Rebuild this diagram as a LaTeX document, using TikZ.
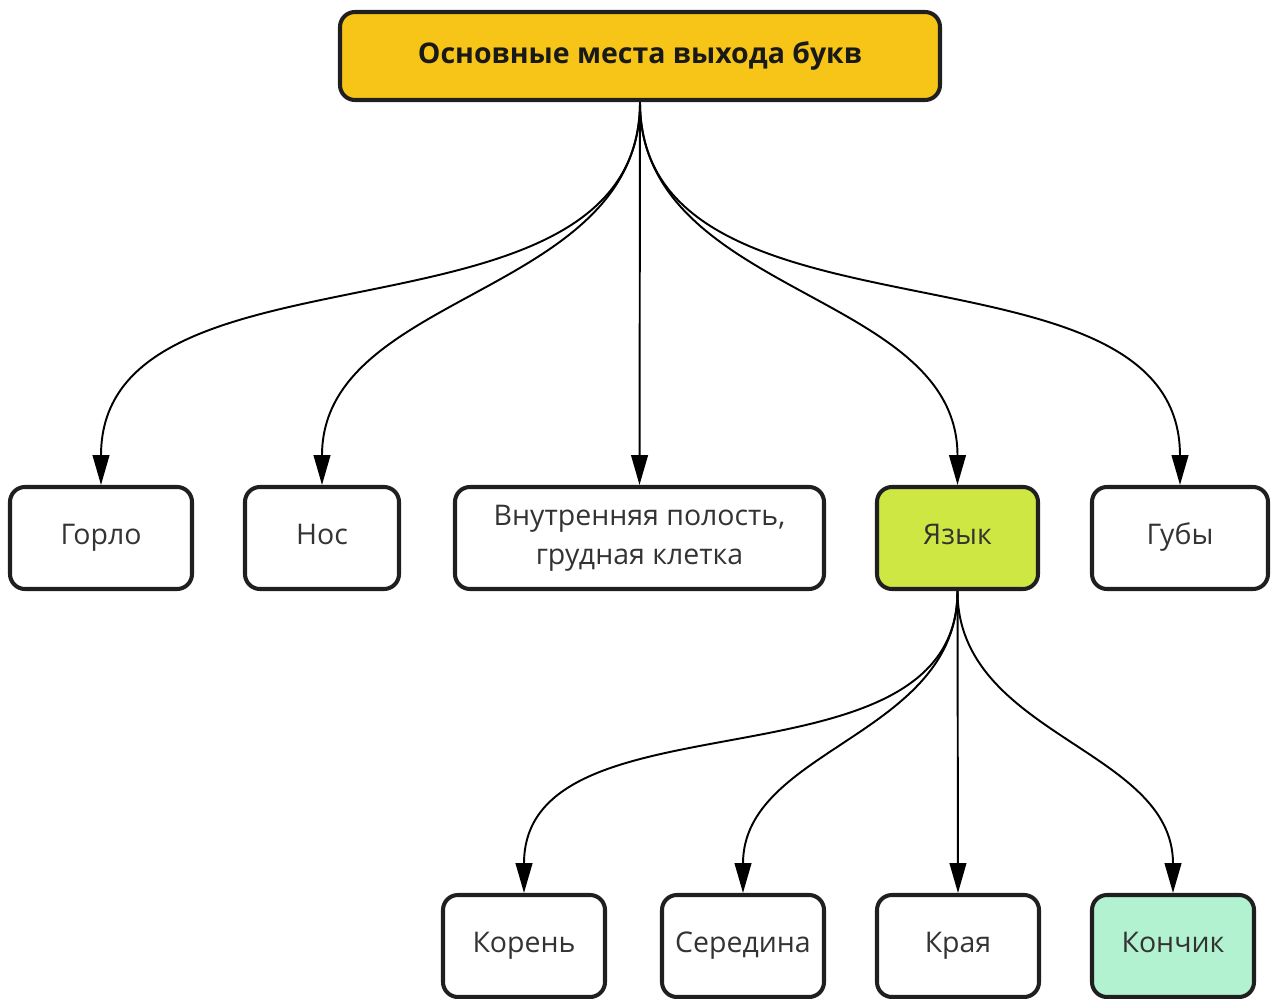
\documentclass[tikz,border=0pt]{standalone}
\usepackage{fontspec}
\setmainfont{Open Sans}
\usetikzlibrary{arrows.meta}
\colorlet{ylx}{rgb,255:red,246;green,197;blue,24}
\colorlet{lmx}{rgb,255:red,206;green,231;blue,66}
\colorlet{mnx}{rgb,255:red,178;green,242;blue,208}
\colorlet{bdx}{black!88}

\begin{document}
\begin{tikzpicture}[
        box/.style={draw=bdx, line width=2.3pt, rounded corners=0.3cm,
            minimum height=2.04cm, align=center, text=black!80,
            font=\fontsize{16.2}{22.2}\selectfont},
        word/.style={box, text height=0.85em, text depth=0.07em},
        link/.style={line width=1.1pt, -{Triangle[length=17pt,width=9.5pt]}}
    ]
    \useasboundingbox (0,0) rectangle (25.48,-19.98);
    \node[box, fill=ylx, minimum width=12cm, minimum height=1.76cm,
        text=black!90, font=\fontsize{16.2}{20}\selectfont\bfseries]
        (top) at (12.8,-1.12) {Основные места выхода букв};
    \node[word, minimum width=3.64cm] (gorlo) at (2.02,-10.76) {Горло};
    \node[word, minimum width=3.08cm] (nos) at (6.44,-10.76) {Нос};
    \node[box, minimum width=7.38cm] (polost) at (12.79,-10.76)
        {Внутренняя полость,\\грудная клетка};
    \node[word, fill=lmx, minimum width=3.22cm] (yazyk) at (19.15,-10.76) {Язык};
    \node[word, minimum width=3.52cm] (guby) at (23.6,-10.76) {Губы};
    \node[word, minimum width=3.24cm] (koren) at (10.48,-18.92) {Корень};
    \node[word, minimum width=3.24cm] (seredina) at (14.86,-18.92) {Середина};
    \node[word, minimum width=3.24cm] (kraya) at (19.16,-18.92) {Края};
    \node[word, fill=mnx, minimum width=3.24cm] (konchik) at (23.46,-18.92) {Кончик};
    \foreach \to in {gorlo,nos,yazyk,guby}
        \draw[link] (top.south) to [out=-90,in=90] (\to.north);
    \draw[link] (top.south) -- (polost.north);
    \foreach \to in {koren,seredina,konchik}
        \draw[link] (yazyk.south) to [out=-90,in=90] (\to.north);
    \draw[link] (yazyk.south) -- (kraya.north);
\end{tikzpicture}
\end{document}
